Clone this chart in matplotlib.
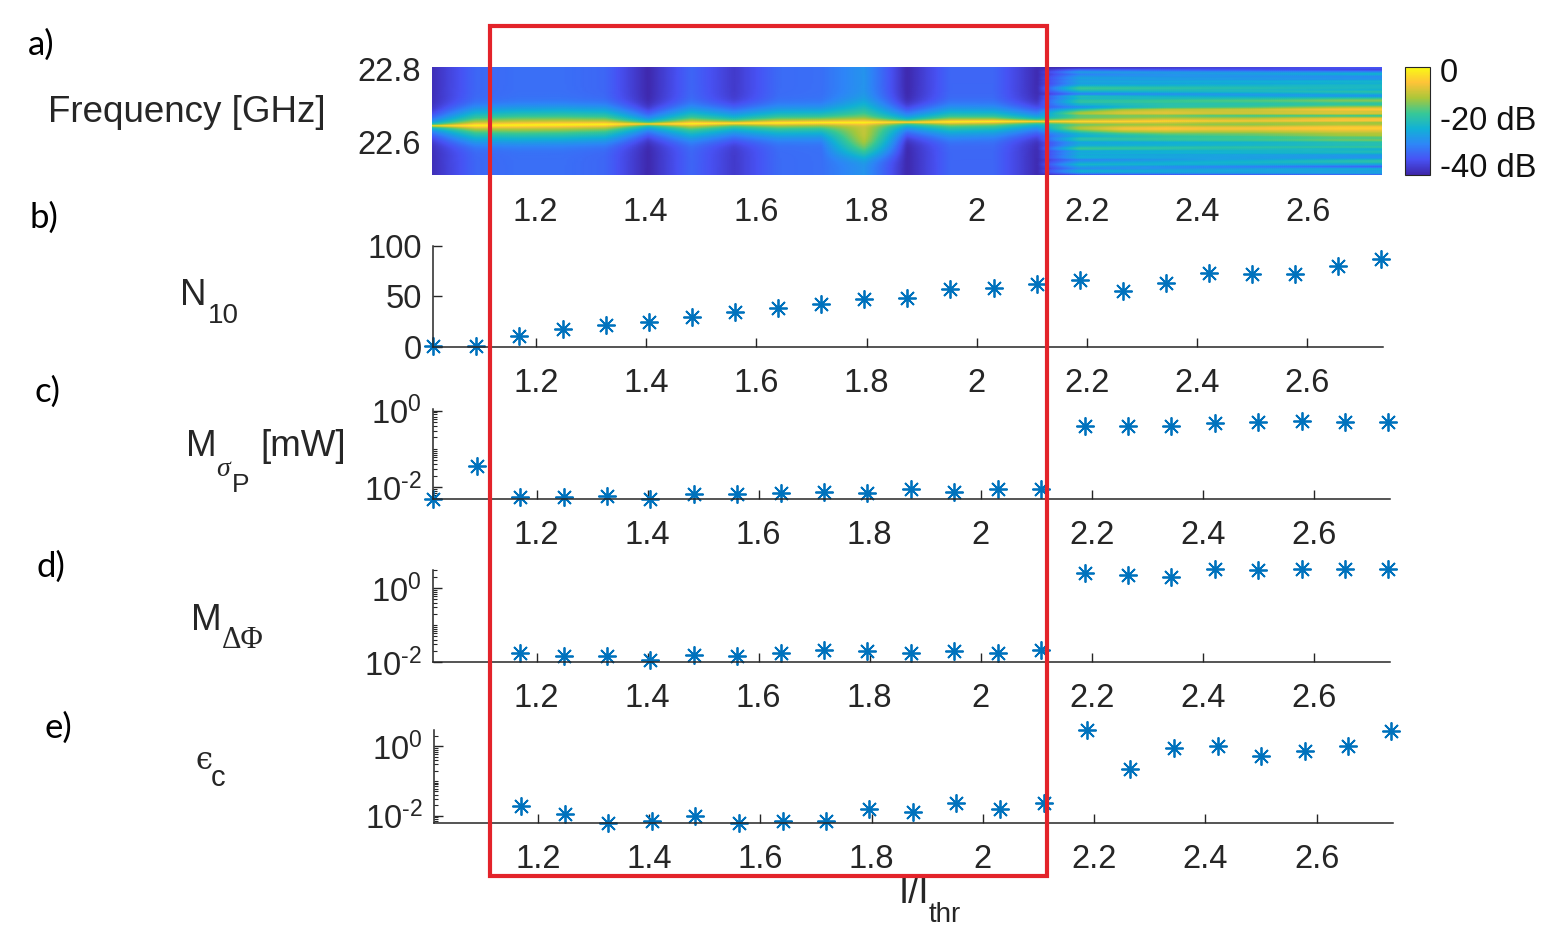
import numpy as np
import matplotlib
matplotlib.use("Agg")
import matplotlib.pyplot as plt
from matplotlib.colors import LinearSegmentedColormap
from matplotlib.patches import Rectangle
from matplotlib.ticker import FixedLocator, FixedFormatter, LogLocator, NullFormatter

W, H = 1541, 938
plt.rcParams['font.family'] = ['Liberation Sans', 'DejaVu Sans']
plt.rcParams['mathtext.fontset'] = 'custom'
plt.rcParams['mathtext.rm'] = 'Liberation Sans'
plt.rcParams['mathtext.it'] = 'Liberation Sans:italic'

GRAY = '#262626'
BLUE = '#0072BD'
TICK_FS = 23.5
LAB_FS = 26.5

# ---- measured quantities vs normalised current ----
current = [1.014, 1.092, 1.170, 1.249, 1.327, 1.405, 1.483, 1.561, 1.640, 1.718,
           1.796, 1.874, 1.952, 2.031, 2.109, 2.187, 2.265, 2.343, 2.422, 2.500,
           2.578, 2.656, 2.734]
n10 = [1, 1, 11, 18, 22, 25, 30, 35, 39, 42.5, 47.5, 48.5, 57, 58.5, 62,
       66, 55, 63, 73.5, 72.5, 72, 80, 87]
m_sigma = [0.0047, 0.035, 0.0055, 0.0055, 0.0057, 0.0049, 0.0067, 0.0067, 0.0070,
           0.0073, 0.0070, 0.0089, 0.0073, 0.0089, 0.0089,
           0.40, 0.40, 0.40, 0.49, 0.52, 0.55, 0.50, 0.50]
m_phi = [np.nan, np.nan, 0.0175, 0.0148, 0.0148, 0.0110, 0.0158, 0.0148, 0.0180,
         0.0206, 0.0193, 0.0180, 0.0193, 0.0180, 0.0206,
         2.48, 2.24, 1.94, 3.18, 3.05, 3.18, 3.18, 3.18]
eps_c = [np.nan, np.nan, 0.0185, 0.0114, 0.0062, 0.0069, 0.0100, 0.0064, 0.0069,
         0.0072, 0.0159, 0.0128, 0.0230, 0.0155, 0.0240,
         2.95, 0.224, 0.92, 1.04, 0.53, 0.73, 1.04, 2.82]

xticks = [1.2, 1.4, 1.6, 1.8, 2.0, 2.2, 2.4, 2.6]
xtick_labels = ['1.2', '1.4', '1.6', '1.8', '2', '2.2', '2.4', '2.6']

# ---- RF spectrum map parameters (one spectrum per current) ----
line_f0 = [22.645, 22.646, 22.647, 22.648, 22.649, 22.650, 22.651, 22.652, 22.653,
           22.654, 22.654, 22.655, 22.656, 22.657, 22.657,
           22.657, 22.657, 22.658, 22.658, 22.658, 22.658, 22.658, 22.658]
line_w = [0.0005, 0.003, 0.0035, 0.0035, 0.003, 0.0006, 0.0025, 0.0012, 0.0022,
          0.0022, 0.003, 0.0007, 0.002, 0.0018, 0.0007,
          0.0008, 0.0008, 0.0008, 0.0008, 0.0008, 0.0008, 0.0008, 0.0008]
line_peak_db = [0, 0, 0, 0, 0, 0, 0, 0, 0, 0, 0, 0, 0, 0, 0,
                0, -1, -2, -4, -6, -8, -10, -12]
floor_db = [-42.5, -35, -34, -34, -35, -43.5, -35, -41, -34.5, -34, -29, -43.5, -35,
            -35, -43, -60, -60, -60, -60, -60, -60, -60, -60]
band_db = [-99] * 15 + [-14, -12, -11, -12, -12, -11, -10, -10]
band_w = [0.03] * 15 + [0.025, 0.040, 0.045, 0.048, 0.050, 0.052, 0.055, 0.056]
stripe_mix = [0] * 15 + [1.0, 0.85, 0.7, 0.55, 0.45, 0.3, 0.15, 0.0]
stripe_a = [-6, 0, 2, -3, 1, 3, -2, -7, 0, 2, 1, -4, 3, 2, -1, -5, 1, 3, 0, -2, 2, 4,
            1, -1, 3, 2, -3, 1, 4, 2, -2, -6, 0, 3, 1, -1, 2, -4, -1, 2, 3, 0, -3, 1,
            2, -2, -5, 0, -3, -7]
stripe_b = [-4, 2, -1, 1, -5, 0, 3, 1, -3, -1, 2, 0, -2, 4, 1, -3, 2, 0, 3, -1, 1, 3,
            2, 0, -2, 3, 1, -4, 2, 0, 3, 1, -3, -1, 2, 0, -5, 1, 3, -2, 0, 2, -1, 3,
            0, -3, 1, -2, -6, -2]
stripe_c = [-3, 1, 2, -2, 0, 3, -1, -4, 2, 1, -2, 3, 0, -3, 2, 1, 3, -1, 0, 2, -4, 1,
            3, 0, -2, 2, 1, -3, 0, 2, -1, 1, -5, 0, 2, -2, -4]
band_center = 22.66
shoulder_col, shoulder_db, shoulder_off, shoulder_w = 10, -10, 0.03, 0.035

freq = np.linspace(22.508, 22.806, 160)
sa = np.interp(freq, np.linspace(22.508, 22.806, len(stripe_a)), stripe_a)
sb = np.interp(freq, np.linspace(22.508, 22.806, len(stripe_b)), stripe_b)
sc = np.interp(freq, np.linspace(22.508, 22.806, len(stripe_c)), stripe_c)

P = np.zeros((len(freq), len(current)))
for k in range(len(current)):
    d = freq - line_f0[k]
    lin = 10 ** (line_peak_db[k] / 10) / (1 + (d / line_w[k]) ** 2) * np.exp(-(d / 0.04) ** 2)
    lin = lin + 10 ** (floor_db[k] / 10)
    if k == shoulder_col:
        sh = 10 ** (shoulder_db / 10) * np.exp(-((d + shoulder_off) / shoulder_w) ** 2)
        lin = lin + np.where(d < 0, sh, 0.1 * 10 ** (shoulder_db / 10) * np.exp(-(d / 0.04) ** 2))
    if band_db[k] > -90:
        dc = freq - band_center
        stripes = 1.4 * (stripe_mix[k] * sa + (1 - stripe_mix[k]) * sb) + 1.1 * sc
        env = (-23 + (band_db[k] + 23) * np.exp(-(np.abs(dc) / band_w[k]) ** 4)
               - 7 * (dc / 0.15) ** 4 + stripes)
        lin = lin + 10 ** (env / 10)
    P[:, k] = lin

# blend neighbouring spectra on a finer current grid (compressed power scale)
gamma = 0.1
cur_fine = np.linspace(current[0], current[-1], 480)
P_fine = np.array([np.interp(cur_fine, current, row) for row in P ** gamma]) ** (1 / gamma)
Z = np.clip(10 * np.log10(P_fine), -44, 1.2)

parula = LinearSegmentedColormap.from_list('parula', [
    (0.2422, 0.1504, 0.6603), (0.2810, 0.3228, 0.9579), (0.1786, 0.5289, 0.9682),
    (0.0689, 0.6948, 0.8394), (0.2161, 0.7843, 0.5923), (0.6720, 0.7793, 0.2227),
    (0.9970, 0.7659, 0.2199), (0.9769, 0.9839, 0.0805)])

fig = plt.figure(figsize=(W / 100, H / 100), dpi=100)


def add_ax(l, t, r, b):
    return fig.add_axes([l / W, 1 - b / H, (r - l) / W, (b - t) / H])


def ftxt(x, y, s, **kw):
    fig.text(x / W, 1 - y / H, s, **kw)


def style(ax):
    ax.spines['top'].set_visible(False)
    ax.spines['right'].set_visible(False)
    for s in ['left', 'bottom']:
        ax.spines[s].set_color(GRAY)
        ax.spines[s].set_linewidth(1.1)
    ax.tick_params(which='major', direction='in', colors=GRAY, labelsize=TICK_FS,
                   length=6.5, width=1)
    ax.tick_params(which='minor', direction='in', colors=GRAY, length=3.2, width=0.8)
    ax.tick_params(axis='x', pad=15)
    ax.tick_params(axis='y', pad=8)
    ax.set_xlim(1.0135, 2.737)
    ax.xaxis.set_major_locator(FixedLocator(xticks))
    ax.xaxis.set_major_formatter(FixedFormatter(xtick_labels))
    ax.patch.set_visible(False)


def log_y(ax, lo, hi):
    ax.set_yscale('log')
    ax.set_ylim(lo, hi)
    ax.yaxis.set_major_locator(FixedLocator([1e-2, 1e0]))
    ax.yaxis.set_major_formatter(FixedFormatter(['$10^{\u2010 2}$', '$10^{0}$']))
    ax.yaxis.set_minor_locator(LogLocator(base=10, subs=np.arange(1, 10)))
    ax.yaxis.set_minor_formatter(NullFormatter())


def stars(ax, y):
    ax.plot(current, y, linestyle='none', marker=(8, 2, 0), markersize=13,
            markeredgewidth=1.3, color=BLUE, clip_on=False)


# a) spectrum map
ax_a = add_ax(432, 67, 1382, 175)
mesh = ax_a.pcolormesh(cur_fine, freq, Z, shading='gouraud', cmap=parula,
                       vmin=-44, vmax=1.2, rasterized=True)
ax_a.set_xlim(1.0135, 2.734)
ax_a.set_ylim(22.508, 22.806)
for s in ax_a.spines.values():
    s.set_visible(False)
ax_a.xaxis.set_major_locator(FixedLocator(xticks))
ax_a.xaxis.set_major_formatter(FixedFormatter(xtick_labels))
ax_a.set_yticks([22.6, 22.8])
ax_a.set_yticklabels(['22.6', '22.8'])
ax_a.tick_params(length=0, colors=GRAY, labelsize=TICK_FS)
ax_a.tick_params(axis='x', pad=15.5)
ax_a.tick_params(axis='y', pad=8)

cax = add_ax(1405, 67, 1430, 175)
cb = fig.colorbar(mesh, cax=cax, ticks=[-40, -20, 0])
cb.ax.set_yticklabels(['-40 dB', '-20 dB', '0'])
cb.ax.tick_params(length=0, pad=7, labelsize=TICK_FS, colors='#111111')
cb.outline.set_linewidth(0.8)
cb.outline.set_edgecolor(GRAY)

# b) N10
ax_b = add_ax(433, 246, 1383, 347)
style(ax_b)
ax_b.set_ylim(0, 100)
ax_b.set_yticks([0, 50, 100])
ax_b.set_yticklabels(['0', '50', '100'])
stars(ax_b, n10)

# c) M sigma_P
ax_c = add_ax(433, 409, 1390, 499)
style(ax_c)
log_y(ax_c, 0.00484, 1.11)
stars(ax_c, m_sigma)

# d) M delta phi
ax_d = add_ax(433, 570, 1390, 662)
style(ax_d)
log_y(ax_d, 0.01, 3.07)
stars(ax_d, m_phi)

# e) eps_c
ax_e = add_ax(434, 730, 1393, 823)
style(ax_e)
log_y(ax_e, 0.0062, 2.94)
stars(ax_e, eps_c)

# row labels
lab = dict(color=GRAY, ha='left', va='baseline')
ftxt(48, 122, 'Frequency [GHz]', fontsize=LAB_FS, **lab)
ftxt(180, 305, 'N', fontsize=LAB_FS, **lab)
ftxt(208, 323, '10', fontsize=20, **lab)
ftxt(186, 456, 'M', fontsize=LAB_FS, **lab)
ftxt(216, 476, 'σ', fontsize=20, family=['Liberation Serif', 'DejaVu Serif'],
     style='italic', color=GRAY, ha='left', va='baseline')
ftxt(232, 492, 'P', fontsize=19, **lab)
ftxt(260, 456, '[mW]', fontsize=LAB_FS, **lab)
ftxt(191, 630, 'M', fontsize=LAB_FS, **lab)
ftxt(222, 648, 'ΔΦ', fontsize=22, family=['Liberation Serif', 'DejaVu Serif'],
     color=GRAY, ha='left', va='baseline')
ftxt(196, 769, 'ϵ', fontsize=22, family=['DejaVu Serif', 'DejaVu Sans'], color=GRAY,
     ha='left', va='baseline')
ftxt(211, 786, 'c', fontsize=21, **lab)
ftxt(899, 903, 'I/I', fontsize=LAB_FS, **lab)
ftxt(929, 922, 'thr', fontsize=20, **lab)

# panel letters
let = dict(color='black', ha='left', va='baseline', fontsize=25, family='Lato')
ftxt(28, 55, 'a)', **let)
ftxt(30, 228, 'b)', **let)
ftxt(35, 402, 'c)', **let)
ftxt(36, 577, 'd)', **let)
ftxt(44, 738, 'e)', **let)

# highlighted current range
fig.add_artist(Rectangle((490 / W, 1 - 876 / H), (1047 - 490) / W, (876 - 26) / H,
                         fill=False, edgecolor='#e3232a', linewidth=3,
                         transform=fig.transFigure, zorder=10))

fig.savefig('out.png', dpi=100)
